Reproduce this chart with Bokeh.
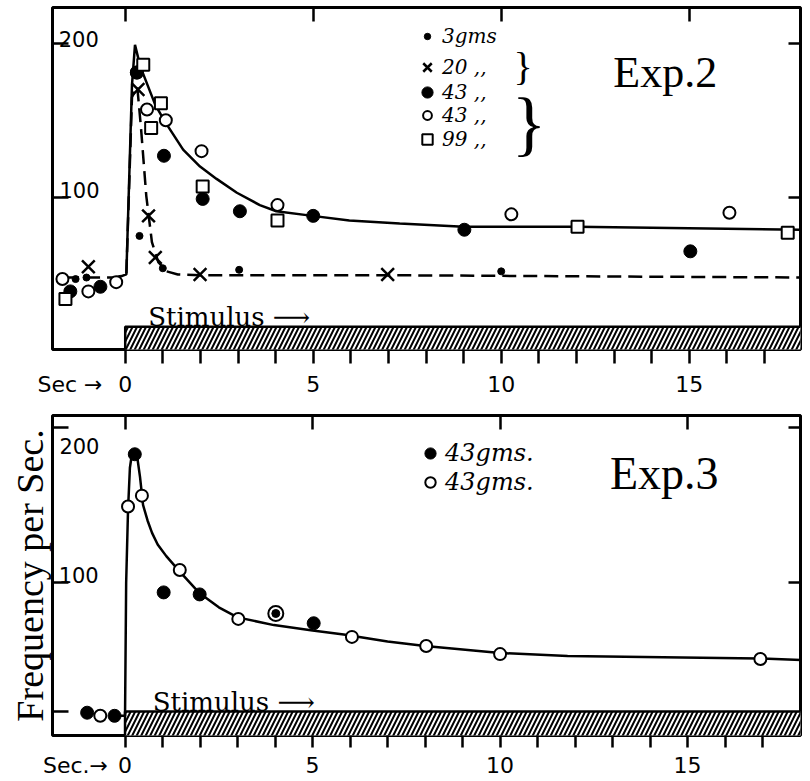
from bokeh.plotting import figure
from bokeh.models import (Range1d, FixedTicker, LinearAxis, Label, Legend,
                          LegendItem)
from bokeh.layouts import column
from bokeh.embed import file_html
from bokeh.resources import INLINE

# ---------------- Data: Exp. 2 (top panel) ----------------
e2_g3_x = [-1.32, -1.03, 0.38, 1.0, 3.03, 10.0]
e2_g3_y = [47, 48, 75, 54, 53, 52]
e2_g20_x = [-0.98, 0.34, 0.62, 0.8, 1.99, 6.98]
e2_g20_y = [55, 170, 88, 61, 50, 50]
e2_g43f_x = [-1.46, -0.66, 0.31, 1.03, 2.06, 3.05, 5.0, 9.02, 15.03]
e2_g43f_y = [39, 42, 181, 127, 99, 91, 88, 79, 65]
e2_g43o_x = [-1.67, -0.98, -0.24, 0.31, 0.58, 1.08, 2.03, 4.05, 10.27, 16.07]
e2_g43o_y = [47, 39, 45, 181, 157, 150, 130, 95, 89, 90]
e2_g99_x = [-1.59, 0.48, 0.69, 0.95, 2.06, 4.05, 12.03, 17.62]
e2_g99_y = [34, 186, 145, 161, 107, 85, 81, 77]
e2_solid_x = [-0.2, 0.03, 0.18, 0.26, 0.4, 0.8, 1.06, 1.54, 1.99, 2.43, 2.97,
              3.58, 4.02, 4.98, 5.96, 7.3, 9.0, 12.0, 18.0]
e2_solid_y = [48, 50, 173, 199, 185, 160, 149, 131, 120, 112, 103,
              95, 91, 88, 85, 83, 81, 81, 79]
e2_dash_x = [-1.6, -0.25, 0.03, 0.18, 0.32, 0.42, 0.56, 0.71, 0.88, 1.1, 1.4,
             2.0, 7.0, 18.0]
e2_dash_y = [48, 48, 50, 165, 172, 145, 101, 71, 58, 52, 50, 49.5, 49.5, 48]
e2_legend = ["3gms", "20 ,,", "43 ,,", "43 ,,", "99 ,,"]

# ---------------- Data: Exp. 3 (bottom panel) ----------------
e3_f_x = [-1.01, -0.28, 0.26, 1.03, 1.99, 5.03]
e3_f_y = [16, 14, 182.7, 93.6, 92.3, 73.7]
e3_o_x = [-0.66, 0.08, 0.45, 1.46, 3.02, 6.05, 8.03, 10.0, 16.94]
e3_o_y = [14, 149, 156, 108, 76.5, 64.9, 59, 53.8, 50.6]
e3_both_x = [4.02]
e3_both_y = [80]
e3_curve_x = [-0.2, 0.0, 0.03, 0.08, 0.13, 0.19, 0.25, 0.33, 0.4, 0.48, 0.6,
              0.72, 0.87, 1.1, 1.46, 1.99, 2.5, 3.0, 3.97, 5.0, 5.83, 7.0,
              8.0, 10.0, 11.8, 16.9, 18.1]
e3_curve_y = [14, 14, 100, 147, 174, 184, 186, 180, 168, 150, 140,
              132, 124.5, 117, 107, 93, 84, 77.5, 72.5, 69, 66.5, 62,
              59, 54.5, 52.6, 51, 50]
e3_legend = ["43gms.", "43gms."]

# ---------------- Stimulus bars and axes ----------------
stim_start = [0]
stim_end = [20]
stim_top_e2 = [16]
stim_top_e3 = [16.7]
sec_ticks = list(range(0, 18))
sec_major = [0, 5, 10, 15]
sec_word_e2 = ("Sec \u2192", -1.47)
sec_word_e3 = ("Sec.\u2192", -1.32)
freq_ticks = [100, 200]
freq_ticks_e3 = [16.7, 100, 200]
freq_tick_labels = ["200", "100"]
y_title = "Frequency per Sec."


def make_fig(width, height, xr, yr, bl, br, bt, bb):
    p = figure(width=width, height=height, x_range=Range1d(*xr),
               y_range=Range1d(*yr), output_backend="svg",
               toolbar_location=None, tools="",
               min_border_left=bl, min_border_right=br,
               min_border_top=bt, min_border_bottom=bb)
    p.grid.visible = False
    p.outline_line_color = "black"
    p.outline_line_width = 3
    p.background_fill_color = "white"
    p.border_fill_color = "white"
    return p


def style_axes(p, left_ticks, tick_out, standoff, sec_word):
    # tick marks only (every second), pointing out of the frame
    xa = p.xaxis[0]
    xa.ticker = FixedTicker(ticks=sec_ticks)
    xa.axis_line_color = None
    xa.major_tick_in = 0
    xa.major_tick_out = tick_out
    xa.major_tick_line_width = 2.5
    xa.major_tick_line_color = "black"
    xa.major_label_text_font_size = "0px"
    xa.major_label_standoff = 0

    # labels row (no tick marks) including the "Sec ->" word
    word, pos = sec_word
    lab_ticks = [pos] + sec_major
    overrides = {pos: word}
    for t in sec_major:
        overrides[t] = str(t)
    xb = LinearAxis(ticker=FixedTicker(ticks=lab_ticks),
                    major_label_overrides=overrides,
                    axis_line_color=None, major_tick_in=0, major_tick_out=0,
                    major_label_standoff=standoff,
                    major_label_text_font="DejaVu Sans",
                    major_label_text_font_size="22px",
                    major_label_text_color="black")
    p.add_layout(xb, "below")

    ya = p.yaxis[0]
    ya.ticker = FixedTicker(ticks=left_ticks)
    ya.axis_line_color = None
    ya.major_tick_in = 16
    ya.major_tick_out = 0
    ya.major_tick_line_width = 2.5
    ya.major_label_text_font_size = "0px"
    ya.major_label_standoff = 0

    top = LinearAxis(ticker=FixedTicker(ticks=sec_major), axis_line_color=None,
                     major_tick_in=14, major_tick_out=0,
                     major_tick_line_width=2.5,
                     major_label_text_font_size="0px",
                     major_label_standoff=0)
    p.add_layout(top, "above")
    right = LinearAxis(ticker=FixedTicker(ticks=freq_ticks),
                       axis_line_color=None, major_tick_in=12,
                       major_tick_out=0, major_tick_line_width=2.5,
                       major_label_text_font_size="0px",
                       major_label_standoff=0)
    p.add_layout(right, "right")


def add_label(p, x, y, text, font, size, align="left", baseline="alphabetic",
              style="normal"):
    p.add_layout(Label(x=x, y=y, text=text, text_font=font,
                       text_font_size=size, text_align=align,
                       text_baseline=baseline, text_font_style=style,
                       text_color="black"))


def add_key(p, label, renderer, box, row_y, frame_left, frame_bottom,
            font_size, marker_x, label_x):
    """One legend entry; Bokeh draws its marker 0.4*box wide."""
    half = box // 2
    leg = Legend(items=[LegendItem(label=label, renderers=[renderer])],
                 location=(int(marker_x - half - frame_left),
                           int(frame_bottom - (row_y + half))))
    leg.label_text_font = "DejaVu Serif"
    leg.label_text_font_style = "italic"
    leg.label_text_font_size = font_size
    leg.label_text_color = "black"
    leg.glyph_width = box
    leg.glyph_height = box
    leg.label_height = box
    leg.padding = 0
    leg.margin = 0
    leg.spacing = 0
    leg.label_standoff = int(max(0, label_x - (marker_x + half)))
    leg.border_line_color = None
    leg.background_fill_alpha = 0
    p.add_layout(leg)


# ======================= Top panel: Exp. 2 =======================
p1 = make_fig(810, 399, (-1.934, 17.96), (1.3, 223.2), 52, 7, 7, 48)
style_axes(p1, freq_ticks, 14, 8, sec_word_e2)

p1.quad(left=stim_start, right=stim_end, bottom=[0], top=stim_top_e2,
        fill_color="white", line_color="black", line_width=2.5,
        hatch_pattern="/", hatch_color="black", hatch_weight=2,
        hatch_scale=9)
p1.line(e2_dash_x, e2_dash_y, line_color="black", line_width=2.5,
        line_dash="14 7")
p1.line(e2_solid_x, e2_solid_y, line_color="black", line_width=2.5)

r_g3 = p1.scatter(e2_g3_x, e2_g3_y, marker="circle", size=7,
                  fill_color="black", line_color="black")
r_g20 = p1.scatter(e2_g20_x, e2_g20_y, marker="x", size=18,
                   line_color="black", line_width=2.5)
r_g43o = p1.scatter(e2_g43o_x, e2_g43o_y, marker="circle", size=12,
                    fill_color="white", line_color="black", line_width=2)
r_g43f = p1.scatter(e2_g43f_x, e2_g43f_y, marker="circle", size=13,
                    fill_color="black", line_color="black")
r_g99 = p1.scatter(e2_g99_x, e2_g99_y, marker="square", size=12,
                   fill_color="white", line_color="black", line_width=2)

# legend: one entry per row (rows ~25 px apart), marker sizes as drawn
key_rows_e2 = [42, 69, 94, 118, 141]
key_boxes_e2 = [16, 30, 28, 22, 26]
for lab, r, box, ry in zip(e2_legend, [r_g3, r_g20, r_g43f, r_g43o, r_g99],
                           key_boxes_e2, key_rows_e2):
    add_key(p1, lab, r, box, ry, 52, 351, "20px", 427, 442)

add_label(p1, 10.33, 184.8, "}", "Liberation Serif", "40px", baseline="middle")
add_label(p1, 10.28, 148.4, "}", "Liberation Serif", "72px", baseline="middle")
add_label(p1, 12.98, 181, "Exp.2", "Liberation Serif", "44px")
add_label(p1, 0.61, 22.5, "Stimulus \u27f6", "DejaVu Serif", "26px")
add_label(p1, -1.77, 203, freq_tick_labels[0], "DejaVu Sans", "21px")
add_label(p1, -1.75, 105, freq_tick_labels[1], "DejaVu Sans", "21px")

# ======================= Bottom panel: Exp. 3 =======================
p2 = make_fig(810, 381, (-1.934, 18.01), (1.3, 207.7), 47, 10, 16, 43)
style_axes(p2, freq_ticks_e3, 12, 5, sec_word_e3)
ya2 = p2.yaxis[0]
ya2.axis_label = y_title
ya2.axis_label_text_font = "Liberation Serif"
ya2.axis_label_text_font_size = "38px"
ya2.axis_label_text_font_style = "normal"
ya2.axis_label_text_color = "black"
ya2.axis_label_standoff = 2

p2.quad(left=stim_start, right=stim_end, bottom=[0], top=stim_top_e3,
        fill_color="white", line_color="black", line_width=2.5,
        hatch_pattern="/", hatch_color="black", hatch_weight=2,
        hatch_scale=9)
p2.line(e3_curve_x, e3_curve_y, line_color="black", line_width=2.5)
r3f = p2.scatter(e3_f_x, e3_f_y, marker="circle", size=13,
                 fill_color="black", line_color="black")
r3o = p2.scatter(e3_o_x, e3_o_y, marker="circle", size=12,
                 fill_color="white", line_color="black", line_width=2)
p2.scatter(e3_both_x, e3_both_y, marker="circle", size=15,
           fill_color="white", line_color="black", line_width=2)
p2.scatter(e3_both_x, e3_both_y, marker="circle", size=8,
           fill_color="black", line_color="black")

key_rows_e3 = [455, 485]
key_boxes_e3 = [28, 26]
for lab, r, box, ry in zip(e3_legend, [r3f, r3o], key_boxes_e3, key_rows_e3):
    add_key(p2, lab, r, box, ry, 47, 737, "24px", 425, 440)

add_label(p2, 12.93, 170.5, "Exp.3", "Liberation Serif", "46px")
add_label(p2, 0.74, 23, "Stimulus \u27f6", "DejaVu Serif", "26px")
add_label(p2, -1.75, 193.5, freq_tick_labels[0], "DejaVu Sans", "21px",
          baseline="top")
add_label(p2, -1.77, 105, freq_tick_labels[1], "DejaVu Sans", "21px")

layout = column(p1, p2, spacing=0)
with open("out.html", "w") as f:
    f.write(file_html(layout, INLINE))
